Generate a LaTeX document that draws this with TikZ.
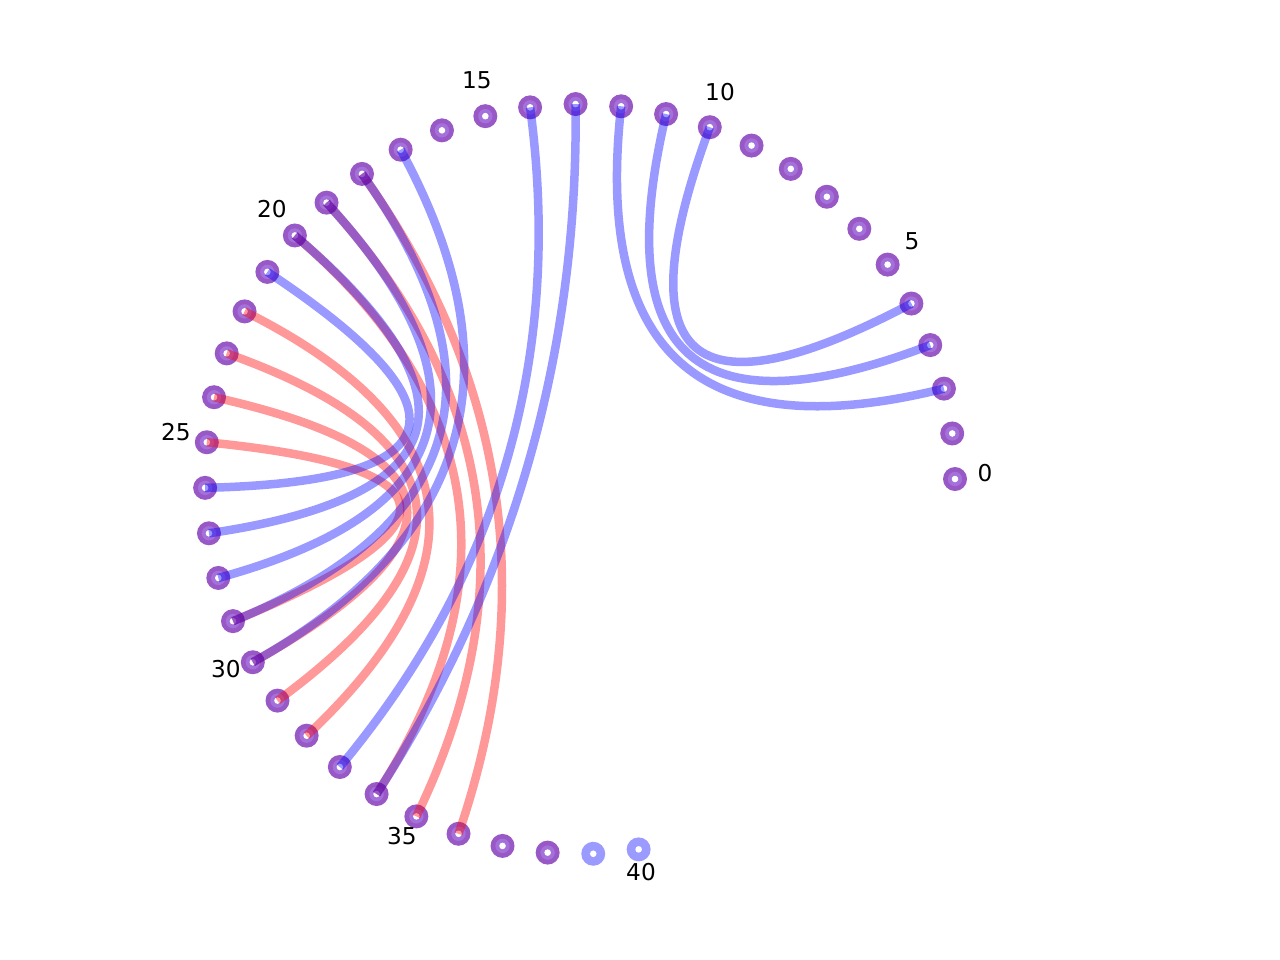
\documentclass[tikz,border=0pt]{standalone}
\usepackage{fontspec}
\setmainfont{DejaVu Sans}
\usetikzlibrary{calc}
\definecolor{nodeout}{RGB}{152,88,198}
\definecolor{nodein}{RGB}{164,112,218}
\definecolor{lblue}{RGB}{155,155,255}
\begin{document}
\begin{tikzpicture}[x=0.1mm,y=-0.1mm,
  vert/.style={circle,fill=nodeout,minimum size=2.4mm,inner sep=0pt},
  bvert/.style={circle,fill=lblue,minimum size=2.4mm,inner sep=0pt},
  redE/.style={draw=red,draw opacity=0.4,line width=0.85mm},
  blueE/.style={draw=blue,draw opacity=0.4,line width=0.85mm},
  lbl/.style={font=\fontsize{6.6}{8}\selectfont,inner sep=0pt}]
\useasboundingbox (0,0) rectangle (1280,960);
\coordinate (o) at (580,479);
% vertices
\foreach \i in {0,...,38} {
  \node[vert] (n\i) at ({580+375*cos(\i*6.975)},{479-375*sin(\i*6.975)}) {};
  \fill[nodein] (n\i.center) circle[radius=0.72mm];
  \fill[white] (n\i.center) circle[radius=0.33mm];
}
\foreach \i in {39,40} {
  \node[bvert] (n\i) at ({580+375*cos(\i*6.975)},{479-375*sin(\i*6.975)}) {};
  \fill[white] (n\i.center) circle[radius=0.33mm];
}
% red edges
\foreach \a/\b in {18/36,19/35,20/34,22/32,23/31,24/30,25/29} {
  \draw[redE] (n\a.center) .. controls ($(n\a.center)!0.6667!(o)$) and ($(n\b.center)!0.6667!(o)$) .. (n\b.center);
}
% blue edges
\foreach \a/\b in {10/4,11/3,12/2,13/34,14/33,17/30,18/29,19/28,20/27,21/26} {
  \draw[blueE] (n\a.center) .. controls ($(n\a.center)!0.6667!(o)$) and ($(n\b.center)!0.6667!(o)$) .. (n\b.center);
}
% labels
\node[lbl] (l0) at (985,473) {0};
\node[lbl] (l5) at (912,241) {5};
\node[lbl] (l10) at (720,92) {10};
\node[lbl] (l15) at (477,80) {15};
\node[lbl] (l20) at (272,209) {20};
\node[lbl] (l25) at (176,432) {25};
\node[lbl] (l30) at (226,669) {30};
\node[lbl] (l35) at (402,836) {35};
\node[lbl] (l40) at (641,872) {40};
\end{tikzpicture}
\end{document}
